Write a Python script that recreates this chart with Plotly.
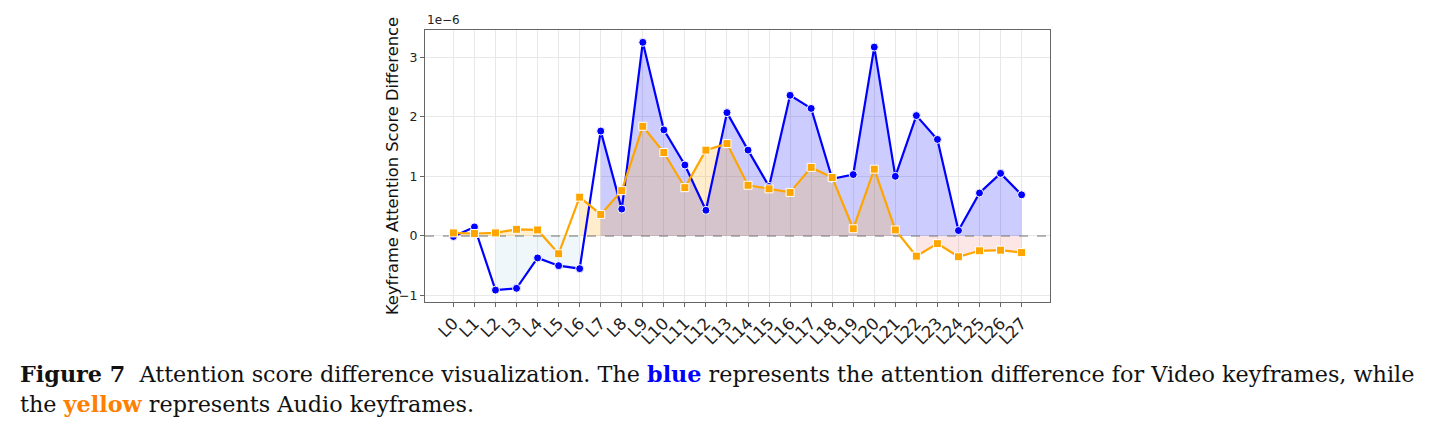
import plotly.graph_objects as go

layers = [f"L{i}" for i in range(28)]
# values in units of 1e-6
video_diff = [-0.01, 0.15, -0.91, -0.88, -0.37, -0.50, -0.55, 1.76, 0.45, 3.25,
              1.78, 1.19, 0.43, 2.07, 1.44, 0.83, 2.36, 2.14, 0.96, 1.03,
              3.17, 1.00, 2.02, 1.62, 0.09, 0.72, 1.05, 0.69]
audio_diff = [0.05, 0.04, 0.05, 0.11, 0.10, -0.30, 0.65, 0.36, 0.76, 1.84,
              1.40, 0.81, 1.44, 1.55, 0.85, 0.79, 0.73, 1.15, 0.98, 0.12,
              1.12, 0.10, -0.34, -0.13, -0.35, -0.25, -0.24, -0.28]

BLUE = "#0000ff"
ORANGE = "#ffa500"
FILL = {
    ("v", True): "rgba(0,0,255,0.2)",
    ("v", False): "rgba(173,216,230,0.2)",
    ("a", True): "rgba(255,165,0,0.2)",
    ("a", False): "rgba(240,128,128,0.2)",
}

xs = list(range(len(layers)))
X_RANGE = [-1.35, 28.35]
Y_RANGE = [-1.11, 3.457]

fig = go.Figure()


def runs(vals, positive):
    out, cur = [], []
    for i, v in enumerate(vals):
        ok = v > 0 if positive else v < 0
        if ok:
            cur.append(i)
        else:
            if len(cur) > 1:
                out.append(cur)
            cur = []
    if len(cur) > 1:
        out.append(cur)
    return out


for key, vals in (("v", video_diff), ("a", audio_diff)):
    for positive in (True, False):
        for seg in runs(vals, positive):
            fig.add_trace(go.Scatter(
                x=seg, y=[vals[i] for i in seg], mode="none",
                fill="tozeroy", fillcolor=FILL[(key, positive)],
                showlegend=False, hoverinfo="skip"))

# zero reference line
fig.add_trace(go.Scatter(x=X_RANGE, y=[0, 0], mode="lines",
                         line=dict(color="rgba(128,128,128,0.75)", width=1.5, dash="dash"),
                         showlegend=False, hoverinfo="skip"))

fig.add_trace(go.Scatter(
    x=xs, y=video_diff, mode="lines+markers", name="Video",
    line=dict(color=BLUE, width=2.2),
    marker=dict(symbol="circle", size=8, color=BLUE, line=dict(color="white", width=1)),
    showlegend=False))
fig.add_trace(go.Scatter(
    x=xs, y=audio_diff, mode="lines+markers", name="Audio",
    line=dict(color=ORANGE, width=2.2),
    marker=dict(symbol="square", size=8, color=ORANGE, line=dict(color="white", width=1)),
    showlegend=False))

fig.update_xaxes(
    range=X_RANGE, tickvals=xs, ticktext=layers, tickangle=-45,
    tickfont=dict(family="DejaVu Sans", size=16.5, color="#222"),
    showgrid=True, gridcolor="#e8e8e8", gridwidth=1, zeroline=False,
    ticks="outside", ticklen=4, tickcolor="#666",
    showline=True, linecolor="#666", linewidth=1.2, mirror=True)
fig.update_yaxes(
    range=Y_RANGE, tickvals=[-1, 0, 1, 2, 3],
    tickfont=dict(family="DejaVu Sans", size=12.5, color="#222"),
    showgrid=True, gridcolor="#e8e8e8", gridwidth=1, zeroline=False,
    ticks="outside", ticklen=4, tickcolor="#666",
    showline=True, linecolor="#666", linewidth=1.2, mirror=True)

fig.add_annotation(text="1e\u22126", xref="paper", yref="paper", x=0, y=1.0,
                   xanchor="left", yanchor="bottom", showarrow=False, yshift=1,
                   font=dict(family="DejaVu Sans", size=12, color="#222"))
fig.add_annotation(text="Keyframe Attention Score Difference", xref="paper", yref="paper",
                   x=-0.0528, y=0.5, textangle=-90, showarrow=False,
                   xanchor="center", yanchor="middle",
                   font=dict(family="DejaVu Sans", size=16.3, color="#111"))

CAP_FONT = dict(family="DejaVu Serif", size=22.3, color="#111")
fig.add_annotation(
    text=("<b>Figure 7</b>  Attention score difference visualization. The "
          "<b><span style='color:#0000ff'>blue</span></b> represents the attention "
          "difference for Video keyframes, while"),
    xref="paper", yref="paper", x=-0.651, y=-0.266, xanchor="left", yanchor="middle",
    showarrow=False, font=CAP_FONT)
fig.add_annotation(
    text=("the <b><span style='color:#ff8000'>yellow</span></b> represents Audio keyframes."),
    xref="paper", yref="paper", x=-0.651, y=-0.376, xanchor="left", yanchor="middle",
    showarrow=False, font=CAP_FONT)

fig.update_layout(
    width=1442, height=436,
    margin=dict(l=425, r=392, t=30, b=134.3),
    plot_bgcolor="white", paper_bgcolor="white",
    showlegend=False)

fig.write_html("out.html")
